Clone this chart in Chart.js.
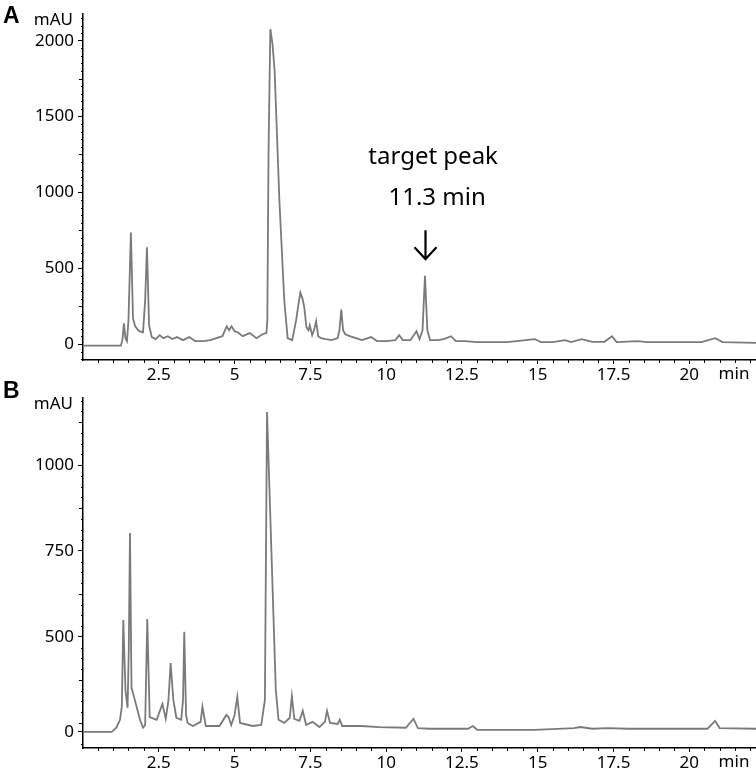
<!DOCTYPE html>
<html>
<head>
<meta charset="utf-8">
<script src="https://cdn.jsdelivr.net/npm/chart.js@4.4.1/dist/chart.umd.min.js"></script>
<style>
  html, body { margin: 0; padding: 0; background: #fff; }
  #wrap { position: relative; width: 756px; height: 772px; }
  canvas { position: absolute; left: 0; }
  #chartA { top: 0; }
  #chartB { top: 380px; }
</style>
</head>
<body>
<div id="wrap">
  <canvas id="chartA" width="756" height="380"></canvas>
  <canvas id="chartB" width="756" height="392"></canvas>
</div>
<script>
// Retention time axis (min)
const xTicks = [2.5, 5, 7.5, 10, 12.5, 15, 17.5, 20];

// Panel A - chromatogram
const timeA = [0, 1.25, 1.30, 1.35, 1.40, 1.45, 1.50, 1.58, 1.65, 1.72, 1.85, 1.98, 2.05, 2.11, 2.18, 2.27,
  2.4, 2.53, 2.65, 2.8, 2.95, 3.1, 3.3, 3.5, 3.7, 3.95, 4.2, 4.4, 4.6, 4.74, 4.82, 4.9, 5.0, 5.1, 5.27,
  5.5, 5.72, 5.92, 6.05, 6.08, 6.12, 6.18, 6.25, 6.32, 6.48, 6.64, 6.75, 6.9, 7.03, 7.1, 7.17, 7.24, 7.3,
  7.37, 7.44, 7.48, 7.56, 7.62, 7.69, 7.76, 7.85, 8.0, 8.2, 8.4, 8.46, 8.52, 8.58, 8.65, 8.8, 9.0, 9.2,
  9.5, 9.7, 10.0, 10.3, 10.43, 10.55, 10.8, 11.0, 11.1, 11.2, 11.28, 11.36, 11.45, 11.7, 11.9, 12.14,
  12.3, 12.6, 13.0, 14.0, 14.9, 15.1, 15.5, 15.9, 16.1, 16.45, 16.8, 17.2, 17.45, 17.6, 18.3, 18.6,
  20.4, 20.85, 21.1, 22.2];
const signalA = [-10, -10, 26, 137, 39, 20, 156, 736, 169, 117, 85, 78, 287, 638, 124, 46,
  33, 59, 39, 52, 33, 46, 26, 46, 20, 20, 26, 39, 52, 117, 91, 117, 85, 78, 52,
  72, 39, 65, 72, 156, 1264, 2078, 1980, 1805, 938, 287, 39, 26, 156, 254, 339, 300, 241,
  111, 91, 124, 59, 91, 150, 52, 39, 33, 26, 39, 91, 228, 91, 65, 52, 39, 26,
  46, 20, 20, 26, 59, 26, 26, 85, 33, 91, 450, 91, 26, 26, 33, 52,
  20, 20, 13, 13, 33, 13, 13, 26, 13, 33, 15, 15, 52, 13, 20, 13,
  13, 39, 13, 8];
const yTicksA = [0, 500, 1000, 1500, 2000];
const yLabelsA = ['0', '500', '1000', '1500', '2000'];

// Panel B - values read against the 500 / 750 / 1000 labels;
// the picture labels its baseline tick "0"
const timeB = [0, 0.95, 1.1, 1.22, 1.28, 1.33, 1.40, 1.47, 1.51, 1.55, 1.6, 1.71, 1.88, 1.98, 2.05, 2.12,
  2.2, 2.43, 2.62, 2.73, 2.82, 2.89, 2.98, 3.08, 3.24, 3.30, 3.34, 3.40, 3.45, 3.62, 3.88, 3.94, 4.05,
  4.5, 4.73, 4.8, 4.89, 5.0, 5.09, 5.18, 5.6, 5.88, 6.0, 6.07, 6.36, 6.45, 6.64, 6.82, 6.89, 6.97, 7.14,
  7.25, 7.36, 7.57, 7.8, 7.98, 8.05, 8.15, 8.4, 8.47, 8.55, 9.17, 9.77, 10.65, 10.9, 11.05, 11.4, 12.7,
  12.86, 13.0, 14.9, 16.2, 16.4, 16.8, 17.3, 18.0, 20.6, 20.85, 21.0, 22.2];
const signalB = [224, 224, 236, 259, 297, 549, 346, 294, 462, 802, 352, 317, 259, 236, 244, 552,
  267, 259, 305, 262, 317, 424, 317, 265, 259, 317, 515, 273, 250, 241, 253, 297, 241,
  241, 273, 267, 244, 273, 326, 250, 241, 244, 317, 1154, 346, 259, 250, 265, 328, 262, 256,
  285, 244, 253, 238, 253, 285, 250, 247, 259, 241, 241, 238, 236, 262, 235, 233, 233,
  241, 230, 230, 235, 238, 233, 235, 233, 233, 256, 235, 233];
const yTicksB = [224, 500, 750, 1000];
const yLabelsB = ['0', '500', '750', '1000'];

const FONT = '"Noto Sans", "Open Sans", sans-serif';
const TRACE = '#7a7a7a';

const decorPlugin = {
  id: 'decor',
  afterDraw(chart, args, opts) {
    const ctx = chart.ctx;
    const xs = chart.scales.x;
    const ys = chart.scales.y;
    const area = chart.chartArea;
    ctx.save();
    ctx.strokeStyle = '#000';
    ctx.lineWidth = 1;
    // minor ticks on time axis
    ctx.beginPath();
    for (let t = 0.5; t < xs.max; t += 0.5) {
      if (Math.abs(t / 2.5 - Math.round(t / 2.5)) < 1e-6) continue;
      const px = Math.round(xs.getPixelForValue(t)) + 0.5;
      ctx.moveTo(px, area.bottom);
      ctx.lineTo(px, area.bottom + 3);
    }
    // minor ticks on signal axis
    const step = opts.minorStep;
    for (let v = Math.ceil(ys.min / step) * step; v < ys.max; v += step) {
      if (opts.majorTicks.some(m => Math.abs(m - v) < step / 2)) continue;
      const py = Math.round(ys.getPixelForValue(v)) + 0.5;
      const len = Math.abs(v / opts.mediumStep - Math.round(v / opts.mediumStep)) < 1e-6 ? 4 : 2;
      ctx.moveTo(area.left - len, py);
      ctx.lineTo(area.left, py);
    }
    ctx.stroke();

    ctx.fillStyle = '#000';
    ctx.font = '17px ' + FONT;
    ctx.textBaseline = 'middle';
    ctx.textAlign = 'right';
    ctx.fillText('mAU', area.left - 10, area.top + 6);
    ctx.textAlign = 'center';
    ctx.fillText('min', area.right - 22, area.bottom + 14);

    ctx.font = 'bold 23px "Liberation Sans", Arial, sans-serif';
    ctx.textAlign = 'left';
    ctx.fillText(opts.letter, 3, opts.letterY);

    if (opts.note) {
      const n = opts.note;
      ctx.font = '24px ' + FONT;
      ctx.textAlign = 'center';
      ctx.fillText(n.line1, xs.getPixelForValue(n.textX1), ys.getPixelForValue(n.textY1));
      ctx.fillText(n.line2, xs.getPixelForValue(n.textX2), ys.getPixelForValue(n.textY2));
      const ax = Math.round(xs.getPixelForValue(n.arrowX)) + 0.5;
      const ay0 = ys.getPixelForValue(n.arrowTop);
      const ay1 = ys.getPixelForValue(n.arrowTip);
      ctx.lineWidth = 2.2;
      ctx.beginPath();
      ctx.moveTo(ax, ay0);
      ctx.lineTo(ax, ay1);
      ctx.moveTo(ax - 11, ay1 - 12);
      ctx.lineTo(ax, ay1);
      ctx.lineTo(ax + 11, ay1 - 12);
      ctx.stroke();
    }
    ctx.restore();
  }
};

function makeChart(id, times, signal, yTicks, yLabels, yMin, yMax, xHeight, padTop, decor) {
  return new Chart(document.getElementById(id), {
    type: 'line',
    data: {
      datasets: [{
        data: times.map((t, i) => ({ x: t, y: signal[i] })),
        borderColor: TRACE,
        borderWidth: 1.8,
        pointRadius: 0,
        tension: 0,
        fill: false
      }]
    },
    options: {
      responsive: false,
      animation: false,
      events: [],
      layout: { padding: { top: padTop, right: 0, left: 0, bottom: 0 } },
      plugins: {
        legend: { display: false },
        tooltip: { enabled: false },
        decor: decor
      },
      scales: {
        x: {
          type: 'linear',
          min: 0,
          max: 22.2,
          afterBuildTicks: s => { s.ticks = xTicks.map(v => ({ value: v })); },
          afterFit: s => { s.height = xHeight; },
          border: { display: true, color: '#000', width: 1.5 },
          grid: { display: true, drawOnChartArea: false, drawTicks: true, tickLength: 4, color: '#000' },
          ticks: {
            color: '#000', font: { family: FONT, size: 17 }, padding: 1, maxRotation: 0, autoSkip: false,
            callback: v => String(v)
          }
        },
        y: {
          type: 'linear',
          min: yMin,
          max: yMax,
          afterBuildTicks: s => { s.ticks = yTicks.map(v => ({ value: v })); },
          afterFit: s => { s.width = 83; },
          border: { display: true, color: '#000', width: 1.5 },
          grid: { display: true, drawOnChartArea: false, drawTicks: true, tickLength: 5, color: '#000' },
          ticks: {
            color: '#000', font: { family: FONT, size: 17 }, padding: 4, autoSkip: false,
            callback: (v, i) => yLabels[i]
          }
        }
      }
    },
    plugins: [decorPlugin]
  });
}

makeChart('chartA', timeA, signalA, yTicksA, yLabelsA, -105, 2175, 20, 10, {
  letter: 'A', letterY: 17, minorStep: 50, mediumStep: 250, majorTicks: yTicksA,
  note: {
    line1: 'target peak', line2: '11.3 min',
    textX1: 11.55, textY1: 1230, textX2: 11.68, textY2: 965,
    arrowX: 11.28, arrowTop: 750, arrowTip: 560
  }
});

makeChart('chartB', timeB, signalB, yTicksB, yLabelsB, 177, 1195, 24, 18, {
  letter: 'B', letterY: 12, minorStep: 31.25, mediumStep: 125, majorTicks: yTicksB, note: null
});
</script>
</body>
</html>
